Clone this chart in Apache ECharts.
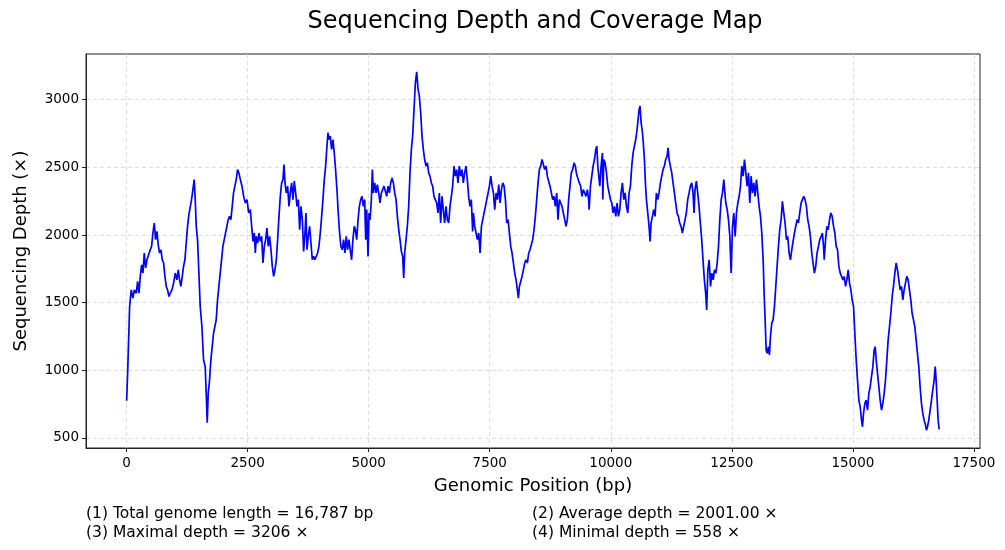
<!DOCTYPE html>
<html>
<head>
<meta charset="utf-8">
<script src="https://cdn.jsdelivr.net/npm/echarts@6/dist/echarts.min.js"></script>
<style>
html, body { margin: 0; padding: 0; background: #fff; }
#chart { width: 1005px; height: 550px; }
</style>
</head>
<body>
<div id="chart"></div>
<script>
// genomic positions (bp)
var positions = [
    0, 21, 62, 96, 131, 158, 200, 227, 255, 282, 310, 337, 365, 392, 420, 461, 488, 516, 543, 571,
    598, 626, 653, 681, 709, 736, 764, 791, 819, 846, 874, 901, 936, 970, 1004, 1039, 1066, 1094, 1121, 1149,
    1176, 1204, 1231, 1259, 1286, 1314, 1341, 1369, 1396, 1417, 1438, 1465, 1493, 1520, 1555, 1589, 1623, 1644, 1665, 1685,
    1713, 1740, 1768, 1795, 1823, 1850, 1878, 1906, 1933, 1961, 1988, 2016, 2043, 2071, 2098, 2126, 2153, 2181, 2208, 2236,
    2264, 2291, 2319, 2349, 2383, 2417, 2452, 2486, 2521, 2555, 2583, 2610, 2638, 2658, 2679, 2706, 2734, 2761, 2789, 2816,
    2844, 2871, 2899, 2926, 2954, 2982, 3009, 3037, 3064, 3092, 3119, 3147, 3174, 3202, 3229, 3250, 3271, 3298, 3326, 3353,
    3381, 3408, 3436, 3463, 3491, 3519, 3546, 3574, 3601, 3629, 3656, 3684, 3704, 3725, 3752, 3780, 3807, 3835, 3862, 3890,
    3917, 3945, 3972, 4000, 4028, 4055, 4083, 4110, 4138, 4158, 4179, 4206, 4234, 4261, 4289, 4316, 4344, 4371, 4399, 4426,
    4454, 4481, 4509, 4536, 4564, 4591, 4619, 4647, 4674, 4702, 4725, 4752, 4780, 4807, 4835, 4862, 4890, 4917, 4938, 4959,
    4986, 5007, 5028, 5055, 5076, 5096, 5124, 5152, 5179, 5207, 5234, 5262, 5289, 5317, 5344, 5372, 5399, 5427, 5454, 5482,
    5510, 5537, 5565, 5592, 5620, 5647, 5675, 5702, 5723, 5743, 5771, 5798, 5826, 5853, 5881, 5908, 5936, 5964, 5991, 6019,
    6046, 6074, 6101, 6129, 6156, 6184, 6211, 6239, 6266, 6294, 6321, 6349, 6376, 6404, 6431, 6459, 6486, 6514, 6541, 6569,
    6596, 6624, 6652, 6679, 6707, 6734, 6762, 6789, 6817, 6844, 6872, 6899, 6927, 6954, 6982, 7009, 7037, 7064, 7092, 7119,
    7147, 7163, 7190, 7218, 7245, 7273, 7300, 7328, 7355, 7383, 7411, 7438, 7466, 7493, 7521, 7548, 7576, 7603, 7631, 7658,
    7686, 7713, 7741, 7768, 7796, 7824, 7851, 7879, 7906, 7934, 7961, 7989, 8016, 8044, 8071, 8092, 8112, 8140, 8167, 8195,
    8222, 8250, 8277, 8305, 8332, 8360, 8387, 8415, 8442, 8470, 8497, 8525, 8552, 8580, 8608, 8635, 8663, 8690, 8718, 8745,
    8773, 8800, 8828, 8855, 8883, 8910, 8938, 8965, 8993, 9020, 9048, 9075, 9103, 9130, 9158, 9185, 9213, 9240, 9268, 9295,
    9323, 9350, 9378, 9405, 9433, 9461, 9488, 9516, 9543, 9553, 9580, 9608, 9635, 9663, 9690, 9711, 9732, 9752, 9773, 9800,
    9828, 9835, 9856, 9883, 9911, 9938, 9966, 9993, 10021, 10048, 10076, 10103, 10131, 10158, 10186, 10213, 10241, 10268, 10296, 10323,
    10351, 10378, 10406, 10433, 10461, 10488, 10516, 10543, 10564, 10585, 10605, 10626, 10647, 10667, 10695, 10715, 10736, 10764, 10791, 10812,
    10832, 10860, 10887, 10915, 10942, 10970, 10997, 11025, 11052, 11080, 11107, 11135, 11163, 11183, 11204, 11231, 11259, 11286, 11314, 11341,
    11369, 11396, 11424, 11451, 11479, 11506, 11534, 11561, 11589, 11617, 11644, 11672, 11699, 11720, 11740, 11768, 11795, 11823, 11850, 11878,
    11905, 11933, 11960, 11981, 12005, 12032, 12060, 12087, 12115, 12142, 12170, 12197, 12225, 12252, 12280, 12307, 12335, 12356, 12376, 12404,
    12431, 12459, 12486, 12514, 12541, 12569, 12596, 12624, 12651, 12679, 12706, 12734, 12761, 12789, 12816, 12844, 12871, 12899, 12926, 12954,
    12981, 13009, 13037, 13064, 13092, 13119, 13147, 13167, 13188, 13209, 13229, 13257, 13277, 13298, 13325, 13353, 13380, 13408, 13435, 13463,
    13490, 13518, 13545, 13573, 13600, 13628, 13655, 13683, 13711, 13738, 13766, 13793, 13821, 13848, 13876, 13903, 13931, 13958, 13986, 14013,
    14041, 14068, 14096, 14123, 14151, 14178, 14206, 14233, 14261, 14289, 14316, 14344, 14371, 14399, 14408, 14436, 14463, 14491, 14518, 14546,
    14573, 14601, 14628, 14656, 14683, 14711, 14739, 14766, 14794, 14821, 14849, 14876, 14904, 14931, 14959, 14986, 15014, 15041, 15069, 15096,
    15124, 15151, 15179, 15199, 15220, 15248, 15275, 15303, 15330, 15358, 15385, 15413, 15440, 15461, 15482, 15509, 15537, 15564, 15592, 15619,
    15647, 15674, 15702, 15729, 15757, 15784, 15812, 15839, 15867, 15894, 15922, 15949, 15977, 16004, 16032, 16059, 16087, 16114, 16142, 16169,
    16197, 16224, 16252, 16279, 16307, 16334, 16362, 16389, 16417, 16444, 16472, 16500, 16520, 16541, 16568, 16596, 16624, 16651, 16679, 16700,
    16720, 16741, 16761, 16782
];

// sequencing depth (x) at each position
var depths = [
    775, 978, 1472, 1595, 1533, 1595, 1570, 1657, 1570, 1694, 1780, 1719, 1867, 1756, 1817, 1817, 1891, 1916, 2015, 2089,
    1966, 2027, 1928, 1867, 1891, 1817, 1793, 1694, 1620, 1595, 1546, 1570, 1595, 1644, 1719, 1669, 1743, 1669, 1620, 1694,
    1768, 1817, 1941, 2064, 2151, 2163, 2262, 2336, 2410, 2262, 2064, 1966, 1719, 1472, 1324, 1077, 1027, 830, 613, 830,
    928, 1077, 1175, 1274, 1324, 1373, 1521, 1620, 1719, 1817, 1916, 1966, 2015, 2064, 2114, 2138, 2114, 2212, 2311, 2361,
    2410, 2484, 2459, 2410, 2361, 2286, 2237, 2262, 2163, 2188, 2064, 1953, 2015, 1867, 1990, 1941, 2015, 1953, 1990, 1793,
    1916, 1966, 2052, 1916, 1990, 1891, 1768, 1694, 1743, 1817, 1966, 2138, 2286, 2385, 2410, 2521, 2385, 2311, 2361, 2212,
    2311, 2385, 2262, 2398, 2311, 2212, 2262, 2040, 2212, 2114, 1879, 2015, 2163, 1891, 1990, 2064, 1941, 1817, 1842, 1817,
    1830, 1867, 1916, 2015, 2138, 2262, 2410, 2509, 2657, 2756, 2706, 2731, 2632, 2706, 2607, 2484, 2336, 2163, 2015, 1916,
    1891, 1966, 1867, 1990, 1891, 1966, 1891, 1817, 1966, 2064, 2040, 1966, 2114, 2212, 2262, 2286, 2212, 2262, 1966, 2188,
    1842, 2163, 2114, 2262, 2484, 2311, 2385, 2311, 2373, 2311, 2237, 2311, 2336, 2361, 2373, 2286, 2361, 2311, 2385, 2422,
    2385, 2311, 2262, 2138, 2040, 1966, 1879, 1842, 1682, 1867, 1966, 2064, 2212, 2459, 2632, 2731, 2928, 3126, 3206, 3077,
    3027, 2904, 2731, 2632, 2558, 2509, 2533, 2459, 2435, 2385, 2361, 2286, 2262, 2237, 2163, 2311, 2089, 2286, 2188, 2089,
    2212, 2114, 2089, 2212, 2286, 2361, 2509, 2435, 2484, 2385, 2509, 2435, 2484, 2385, 2459, 2509, 2410, 2286, 2212, 2262,
    2027, 2163, 2064, 2015, 1966, 2015, 1867, 2064, 2114, 2163, 2212, 2262, 2311, 2361, 2435, 2361, 2311, 2188, 2311, 2262,
    2373, 2237, 2336, 2385, 2361, 2262, 2089, 2114, 2015, 1916, 1867, 1793, 1719, 1669, 1595, 1533, 1620, 1657, 1694, 1743,
    1793, 1817, 1793, 1867, 1891, 1891, 1966, 2040, 2138, 2262, 2385, 2484, 2509, 2558, 2558, 2484, 2509, 2435, 2435, 2361,
    2311, 2262, 2286, 2212, 2311, 2114, 2262, 2237, 2212, 2163, 2114, 2064, 2114, 2262, 2361, 2459, 2484, 2533, 2509, 2447,
    2459, 2385, 2361, 2286, 2336, 2311, 2286, 2336, 2262, 2188, 2361, 2435, 2509, 2558, 2632, 2657, 2509, 2435, 2361, 2509,
    2607, 2262, 2558, 2533, 2459, 2361, 2311, 2262, 2237, 2163, 2212, 2138, 2237, 2138, 2188, 2311, 2385, 2262, 2311, 2212,
    2163, 2311, 2361, 2509, 2607, 2657, 2706, 2780, 2854, 2928, 2953, 2830, 2780, 2706, 2558, 2385, 2262, 2163, 2064, 1953,
    2089, 2138, 2188, 2138, 2311, 2262, 2311, 2385, 2435, 2484, 2509, 2558, 2583, 2644, 2558, 2509, 2459, 2385, 2311, 2237,
    2163, 2138, 2089, 2064, 2015, 2064, 2114, 2163, 2262, 2311, 2361, 2385, 2311, 2163, 2336, 2398, 2311, 2212, 2089, 1966,
    1817, 1669, 1570, 1447, 1743, 1817, 1620, 1719, 1669, 1743, 1719, 1793, 1916, 2114, 2262, 2311, 2410, 2311, 2237, 2188,
    2114, 1990, 1719, 2064, 2163, 1990, 2163, 2237, 2286, 2361, 2509, 2435, 2558, 2459, 2361, 2459, 2237, 2435, 2311, 2385,
    2286, 2410, 2311, 2212, 2138, 2015, 1817, 1570, 1373, 1151, 1126, 1175, 1114, 1249, 1348, 1373, 1472, 1620, 1768, 1916,
    2040, 2114, 2249, 2163, 2089, 1966, 1990, 1867, 1817, 1891, 1891, 2015, 2064, 2114, 2089, 2163, 2237, 2262, 2286, 2262,
    2212, 2114, 2064, 1990, 1867, 1793, 1719, 1768, 1867, 1916, 1966, 1990, 2015, 1891, 1817, 1966, 2064, 2040, 2114, 2163,
    2138, 2064, 2015, 1916, 1891, 1768, 1719, 1719, 1669, 1694, 1620, 1669, 1743, 1644, 1595, 1521, 1472, 1274, 1077, 928,
    780, 731, 632, 583, 682, 756, 780, 706, 830, 879, 953, 1027, 1151, 1175, 1077, 978, 879, 780, 706, 756,
    830, 928, 1077, 1225, 1324, 1422, 1546, 1620, 1719, 1793, 1743, 1669, 1595, 1620, 1521, 1595, 1644, 1694, 1669, 1595,
    1521, 1422, 1373, 1324, 1225, 1126, 1027, 879, 756, 682, 632, 595, 558, 583, 632, 706, 780, 855, 928, 1027,
    928, 780, 632, 563
];

var xTicks = [0, 2500, 5000, 7500, 10000, 12500, 15000, 17500];
var yTicks = [500, 1000, 1500, 2000, 2500, 3000];

var notes = [
    '(1) Total genome length = 16,787 bp',
    '(2) Average depth = 2001.00 \u00d7',
    '(3) Maximal depth = 3206 \u00d7',
    '(4) Minimal depth = 558 \u00d7'
];

var seriesData = positions.map(function (p, i) {
    return [p, depths[i]];
});

var font = 'DejaVu Sans';
var frameColor = '#222';
var gridLine = { show: true, lineStyle: { color: '#d6d6d6', type: [4, 3], width: 0.8 } };
var plain = function (v) { return String(v); };

var chart = echarts.init(document.getElementById('chart'));
chart.setOption({
    animation: false,
    backgroundColor: '#fff',
    title: {
        text: 'Sequencing Depth and Coverage Map',
        left: 530,
        textAlign: 'center',
        top: 5,
        textStyle: { fontFamily: font, fontSize: 24, fontWeight: 'normal', color: '#000' }
    },
    grid: {
        left: 86, right: 25, top: 54, bottom: 102,
        show: true, borderColor: frameColor, borderWidth: 1, backgroundColor: 'transparent'
    },
    xAxis: {
        type: 'value',
        min: -839,
        max: 17626,
        name: 'Genomic Position (bp)',
        nameLocation: 'middle',
        nameGap: 29,
        nameTextStyle: { fontFamily: font, fontSize: 18, color: '#000' },
        axisLine: { show: true, onZero: false, lineStyle: { color: frameColor } },
        axisTick: { show: true, length: 4, customValues: xTicks, lineStyle: { color: frameColor } },
        axisLabel: { fontFamily: font, fontSize: 13.5, color: '#000', margin: 8, customValues: xTicks, formatter: plain },
        splitLine: gridLine
    },
    yAxis: {
        type: 'value',
        min: 426,
        max: 3338,
        name: 'Sequencing Depth (\u00d7)',
        nameLocation: 'middle',
        nameGap: 56,
        nameTextStyle: { fontFamily: font, fontSize: 18, color: '#000' },
        axisLine: { show: true, onZero: false, lineStyle: { color: frameColor } },
        axisTick: { show: true, length: 4, customValues: yTicks, lineStyle: { color: frameColor } },
        axisLabel: { fontFamily: font, fontSize: 13.5, color: '#000', margin: 7, customValues: yTicks, formatter: plain },
        splitLine: gridLine
    },
    series: [{
        type: 'line',
        data: seriesData,
        showSymbol: false,
        symbol: 'none',
        lineStyle: { color: '#0000ff', width: 1.7 },
        z: 3
    }],
    graphic: [
        { type: 'text', left: 86, top: 506, style: { text: notes[0], fontFamily: font, fontSize: 15.5, fill: '#000' } },
        { type: 'text', left: 532, top: 506, style: { text: notes[1], fontFamily: font, fontSize: 15.5, fill: '#000' } },
        { type: 'text', left: 86, top: 525, style: { text: notes[2], fontFamily: font, fontSize: 15.5, fill: '#000' } },
        { type: 'text', left: 532, top: 525, style: { text: notes[3], fontFamily: font, fontSize: 15.5, fill: '#000' } }
    ]
});
</script>
</body>
</html>
